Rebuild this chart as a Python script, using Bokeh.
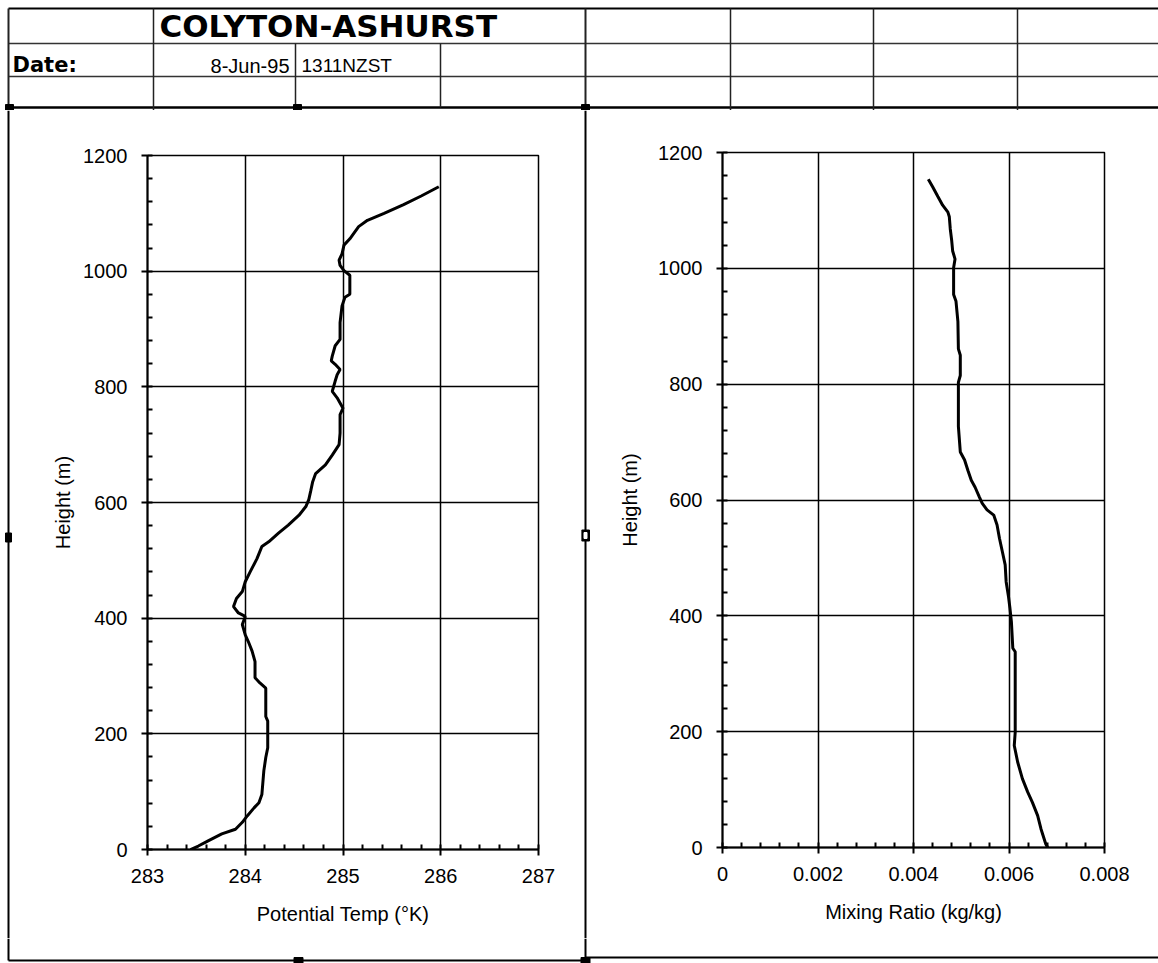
from bokeh.plotting import figure
from bokeh.models import Range1d, SingleIntervalTicker, NumeralTickFormatter, GridBox
from bokeh.embed import file_html
from bokeh.resources import INLINE
from bokeh.core.properties import value

# ---------------- data ----------------
site_name = "COLYTON-ASHURST"
date_label = "Date:"
date_text = "8-Jun-95"
time_text = "1311NZST"

theta_height = [0, 6, 15, 27, 35, 47, 58, 72, 81, 95, 136, 159, 176, 222, 230, 279,
                288, 297, 325, 343, 360, 371, 389, 403, 409, 420, 434, 446, 463, 480,
                503, 524, 532, 547, 561, 578, 593, 605, 620, 636, 650, 665, 682, 700,
                720, 752, 763, 781, 792, 798, 810, 821, 830, 839, 845, 853, 871, 882,
                911, 940, 955, 960, 993, 1001, 1010, 1019, 1030, 1045, 1056, 1077,
                1088, 1100, 1115, 1130, 1146]
theta_k = [283.44, 283.52, 283.62, 283.76, 283.90, 283.97, 284.02, 284.09, 284.14, 284.17,
           284.19, 284.21, 284.23, 284.23, 284.21, 284.21, 284.15, 284.10, 284.10, 284.07,
           284.03, 284.00, 283.97, 284.00, 283.93, 283.88, 283.91, 283.97, 284.00, 284.05,
           284.12, 284.17, 284.24, 284.34, 284.44, 284.55, 284.62, 284.65, 284.67, 284.69,
           284.72, 284.82, 284.89, 284.96, 284.97, 284.97, 285.00, 284.94, 284.89, 284.90,
           284.92, 284.94, 284.97, 284.92, 284.88, 284.89, 284.92, 284.97, 284.97, 284.99,
           285.02, 285.07, 285.07, 285.01, 284.97, 284.96, 284.99, 285.01, 285.07, 285.16,
           285.25, 285.42, 285.62, 285.80, 285.98]

mix_height = [0, 6, 32, 55, 78, 96, 119, 148, 176, 199, 338, 344, 390, 413, 433, 459,
              488, 511, 534, 557, 574, 583, 594, 605, 622, 634, 651, 669, 683, 727, 803,
              815, 850, 861, 908, 943, 955, 1001, 1016, 1030, 1048, 1068, 1089, 1097,
              1109, 1124, 1141, 1154]
mix_ratio = [0.00681, 0.00677, 0.00667, 0.00660, 0.00649, 0.00639, 0.00628, 0.00618,
             0.00611, 0.00613, 0.00613, 0.00608, 0.00605, 0.00602, 0.00599, 0.00594,
             0.00592, 0.00586, 0.00580, 0.00575, 0.00568, 0.00554, 0.00544, 0.00538,
             0.00529, 0.00521, 0.00514, 0.00507, 0.00498, 0.00494, 0.00494, 0.00498,
             0.00498, 0.00494, 0.00493, 0.00489, 0.00484, 0.00484, 0.00487, 0.00482,
             0.00480, 0.00477, 0.00475, 0.00472, 0.00461, 0.00451, 0.00440, 0.00431]

theta_axis_label = "Potential Temp (°K)"
mix_axis_label = "Mixing Ratio (kg/kg)"
height_axis_label = "Height (m)"

FONT = "Liberation Sans"
W = 1158
HH = 110          # header height
BH = 25           # bottom strip height
PH = 963 - HH - BH  # chart panel height
BY = HH + PH      # page y where bottom strip starts


def pixel_fig(w, h):
    f = figure(width=w, height=h, x_range=Range1d(0, w), y_range=Range1d(h, 0),
               x_axis_type=None, y_axis_type=None, min_border=0, frame_align=False,
               outline_line_color=None, toolbar_location=None, output_backend="svg")
    f.background_fill_color = "white"
    f.border_fill_color = "white"
    return f


# ---------------- header (spreadsheet grid) ----------------
hdr = pixel_fig(W, HH)
hdr.segment(x0=[8, 8, 8, 8], y0=[8, 43, 76, 107], x1=[W, W, W, W], y1=[8, 43, 76, 107],
            line_color=["black", "#333333", "#333333", "black"], line_width=[2, 1.5, 1.5, 2.5])
vx_full = [8, 153, 585, 730, 873, 1017]
hdr.segment(x0=vx_full, y0=[8] * len(vx_full), x1=vx_full, y1=[HH] * len(vx_full),
            line_color="#222222", line_width=[2, 1.5, 2, 1.5, 1.5, 1.5])
hdr.segment(x0=[295, 440], y0=[43, 43], x1=[295, 440], y1=[107, 107],
            line_color="#222222", line_width=1.5)
hdr.rect(x=[9, 297, 585], y=[107, 107, 107], width=8, height=6, color="black")

hdr.text(x=[159], y=[25], text=[site_name], text_font=value("DejaVu Sans"),
         text_font_style="bold", text_font_size="31px", text_baseline="middle",
         text_color="black")
hdr.text(x=[12], y=[64], text=[date_label], text_font=value("DejaVu Sans"),
         text_font_style="bold", text_font_size="21px", text_baseline="middle",
         text_color="black")
hdr.text(x=[289], y=[65], text=[date_text], text_font=value(FONT),
         text_font_size="20px", text_baseline="middle", text_align="right",
         text_color="black")
hdr.text(x=[301], y=[65], text=[time_text], text_font=value(FONT),
         text_font_size="19px", text_baseline="middle", text_align="left",
         text_color="black")


def style(p, xlabel, ylabel_standoff):
    p.xaxis.axis_label = xlabel
    p.yaxis.axis_label = height_axis_label
    for ax in p.axis:
        ax.axis_label_text_font = FONT
        ax.axis_label_text_font_size = "20px"
        ax.axis_label_text_font_style = "normal"
        ax.axis_label_text_color = "black"
        ax.major_label_text_font = FONT
        ax.major_label_text_font_size = "20px"
        ax.major_label_text_color = "black"
        ax.axis_line_color = "black"
        ax.axis_line_width = 2
        ax.major_tick_line_color = "black"
        ax.major_tick_line_width = 2
        ax.major_tick_in = 0
        ax.major_tick_out = 6
        ax.minor_tick_line_color = "black"
        ax.minor_tick_line_width = 2
        ax.minor_tick_in = 5
        ax.minor_tick_out = 0
    p.xaxis.major_label_standoff = 13
    p.xaxis.axis_label_standoff = 17
    p.yaxis.major_label_standoff = 14
    p.yaxis.axis_label_standoff = ylabel_standoff
    p.grid.grid_line_color = "black"
    p.grid.grid_line_width = 1.5
    p.grid.grid_line_alpha = 1.0
    p.outline_line_color = "black"
    p.outline_line_width = 1.5
    p.outline_line_alpha = 1.0
    p.background_fill_color = "white"
    p.border_fill_color = "white"
    p.yaxis.ticker = SingleIntervalTicker(interval=200, num_minor_ticks=5)


# ---------------- left border strip ----------------
LS = 12
lstrip = pixel_fig(LS, PH)
lstrip.segment(x0=[8], y0=[0], x1=[8], y1=[PH], line_color="black", line_width=2)
lstrip.rect(x=[8], y=[427], width=6, height=9, color="black")

# ---------------- left chart ----------------
LW = 581 - LS
left = figure(width=LW, height=PH, x_range=Range1d(283, 287), y_range=Range1d(0, 1200),
              min_border_left=147 - LS, min_border_right=581 - 538, min_border_top=45,
              min_border_bottom=PH - (849 - HH), frame_align=False,
              toolbar_location=None, output_backend="svg")
style(left, theta_axis_label, 6)
left.xaxis.ticker = SingleIntervalTicker(interval=1, num_minor_ticks=5)
left.line(theta_k, theta_height, line_width=3, line_color="black")

# ---------------- middle border strip ----------------
MS = 9
mstrip = pixel_fig(MS, PH)
mstrip.segment(x0=[4], y0=[0], x1=[4], y1=[PH], line_color="black", line_width=2)
mstrip.rect(x=[4], y=[425], width=8, height=11, color="black")
mstrip.rect(x=[4], y=[425], width=3, height=6, color="white")

# ---------------- right chart ----------------
RX = 581 + MS
RW = W - RX
right = figure(width=RW, height=PH, x_range=Range1d(0, 0.008), y_range=Range1d(0, 1200),
               min_border_left=722 - RX, min_border_right=W - 1104, min_border_top=42,
               min_border_bottom=PH - (847 - HH), frame_align=False,
               toolbar_location=None, output_backend="svg")
style(right, mix_axis_label, 14)
right.xaxis.ticker = SingleIntervalTicker(interval=0.002, num_minor_ticks=5)
right.xaxis.formatter = NumeralTickFormatter(format="0.[000]")
right.line(mix_ratio, mix_height, line_width=3, line_color="black")

# ---------------- bottom border strip ----------------
bstrip = pixel_fig(W, BH)
yl = 960 - BY
yr = 957 - BY
bstrip.segment(x0=[8, 585], y0=[yl, yr], x1=[585, W], y1=[yl, yr],
               line_color="black", line_width=2)
bstrip.segment(x0=[8, 585], y0=[0, 0], x1=[8, 585], y1=[yl, yl],
               line_color="black", line_width=2)
bstrip.rect(x=[298, 585], y=[yl, yl], width=9, height=6, color="black")

layout = GridBox(children=[(hdr, 0, 0, 1, 4),
                           (lstrip, 1, 0), (left, 1, 1), (mstrip, 1, 2), (right, 1, 3),
                           (bstrip, 2, 0, 1, 4)], spacing=0)

open("out.html", "w").write(file_html(layout, INLINE))
